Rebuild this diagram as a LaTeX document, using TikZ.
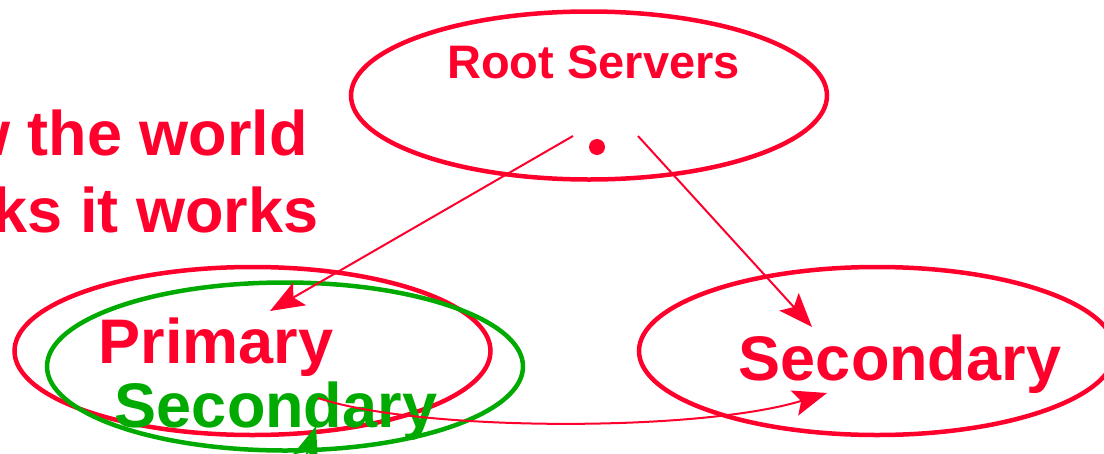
\documentclass[tikz,border=0pt]{standalone}
\usepackage{fontspec}
\setmainfont{Liberation Sans}
\usetikzlibrary{shapes.geometric,arrows.meta}
\definecolor{sred}{RGB}{255,0,45}
\definecolor{sgreen}{RGB}{0,170,0}
\tikzset{
  oval/.style={ellipse, draw=sred, line width=4.5pt, minimum width=476pt, minimum height=168pt, inner sep=0pt},
  goval/.style={oval, draw=sgreen},
  big/.style={font=\bfseries\fontsize{63}{75}\selectfont, inner sep=0pt, anchor=base},
  mid/.style={font=\bfseries\fontsize{47}{56}\selectfont, inner sep=0pt, anchor=base},
  conn/.style={draw=sred, line width=2pt, -{Stealth[length=34pt,width=26pt,inset=7pt]}},
  gconn/.style={conn, draw=sgreen}
}
\begin{document}
\begin{tikzpicture}[x=1pt,y=-1pt]
\useasboundingbox (0,0) rectangle (1104,453);
% ellipses
\node[oval] (root) at (589,95.5) {};
\node[oval] (prim) at (252.5,351) {};
\node[goval] (gsec) at (285,366.5) {};
\node[oval] (sec) at (877,351) {};
% texts
\node[mid, text=sred] (rootlbl) at (593.5,78) {Root Servers};
\node[big, text=sred] (primlbl) at (216,363) {Primary};
\node[big, text=sgreen] (gseclbl) at (276,427) {Secondary};
\node[big, text=sred] (seclbl) at (900,380) {Secondary};
\node[big, text=sred, anchor=base west] (hw1) at (-123,155) {How the world};
\node[big, text=sred, anchor=base west] (hw2) at (-123,232) {thinks it works};
% dot
\node[circle, fill=sred, minimum size=16pt, inner sep=0pt] (dot) at (597,147) {};
% connector ends
\coordinate (rl) at (573,136);
\coordinate (rr) at (638,136);
\coordinate (ptip) at (270,311);
\coordinate (stip) at (812,327);
\coordinate (cstart) at (318,398);
\coordinate (ctip) at (827,393);
\coordinate (gstart) at (292,500);
\coordinate (gtip) at (316,426);
% connectors
\draw[conn] (rl) -- (ptip);
\draw[conn] (rr) -- (stip);
\draw[conn] (cstart) .. controls (420,432) and (700,432) .. (ctip);
\draw[gconn] (gstart) -- (gtip);
\end{tikzpicture}
\end{document}
